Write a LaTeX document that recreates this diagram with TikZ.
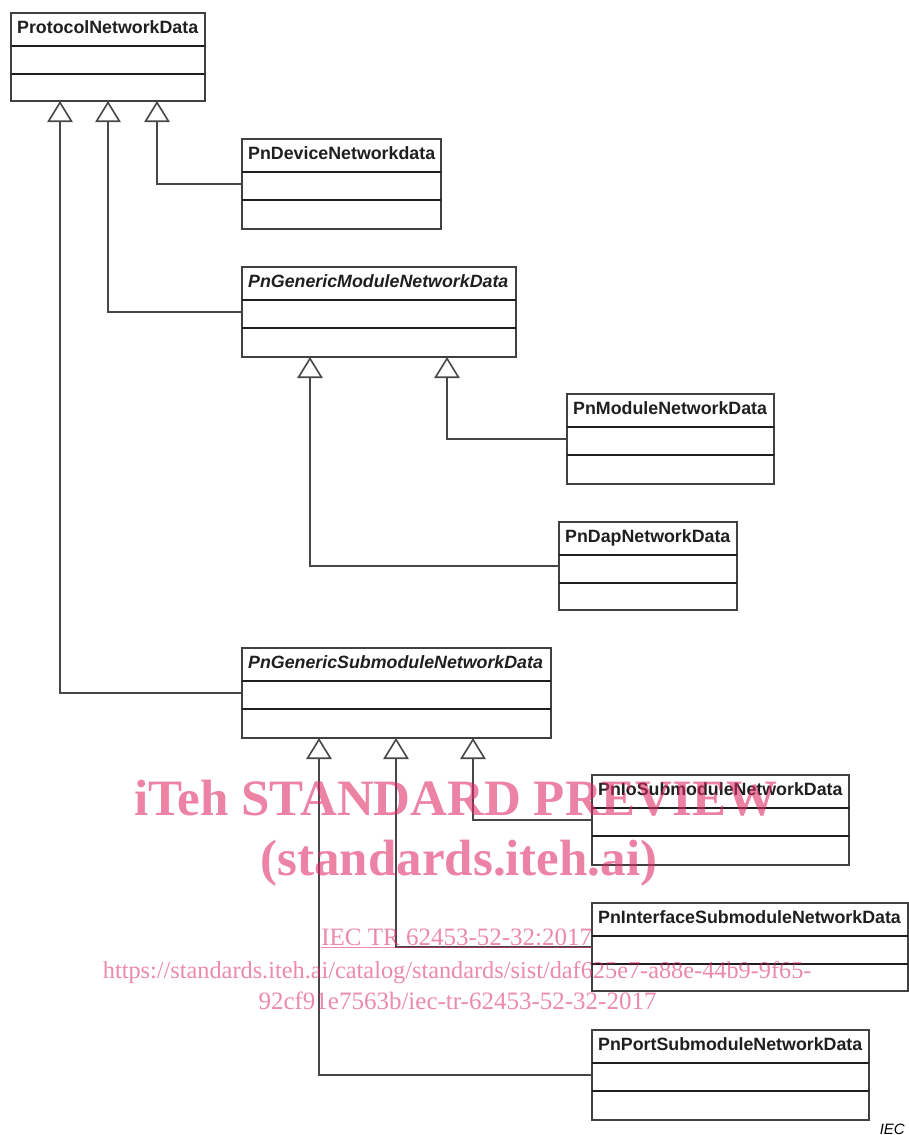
\documentclass[tikz,border=0pt]{standalone}
\usepackage{fontspec}
\usetikzlibrary{arrows.meta,calc}
\newfontfamily\arialfont{Liberation Sans}
\newfontfamily\timesfont{Liberation Serif}
\definecolor{wmpink}{RGB}{222,40,98}
\tikzset{
  clsbox/.style={draw=black!75, line width=2pt, fill=white, rectangle, inner sep=0pt, outer sep=0pt, anchor=north west},
  divline/.style={draw=black!88, line width=1.5pt},
  clstitle/.style={anchor=base west, inner sep=0pt, font=\arialfont\bfseries\fontsize{17.8}{20}\selectfont, text=black!88},
  abstitle/.style={clstitle, font=\arialfont\bfseries\itshape\fontsize{17.8}{20}\selectfont},
  inh/.style={draw=black!72, line width=2pt, line join=miter, -{Triangle[width=25.4pt, length=21pt, fill=white, line width=1.6pt]}},
  wmbig/.style={anchor=base, inner sep=0pt, text=wmpink, text opacity=0.58, font=\timesfont\bfseries\fontsize{51}{51}\selectfont},
  wmsmall/.style={anchor=base, inner sep=0pt, text=wmpink, text opacity=0.55, font=\timesfont\fontsize{25}{25}\selectfont},
}
\newcommand\umlcls[7]{%
  \node[clsbox, minimum width=#4pt, minimum height=#5pt] (#1) at (#2,#3) {};
  \draw[divline] ([yshift=-33pt]#1.north west) -- ([yshift=-33pt]#1.north east);
  \draw[divline] ([yshift=-61pt]#1.north west) -- ([yshift=-61pt]#1.north east);
  \node[#7] (#1-t) at ([xshift=6pt,yshift=-20.5pt]#1.north west) {#6};
}
\begin{document}
\begin{tikzpicture}[x=1pt,y=-1pt]
\useasboundingbox (0,0) rectangle (909,1135);
% classes
\umlcls{proto}{11}{13}{194}{88}{ProtocolNetworkData}{clstitle}
\umlcls{dev}{242}{139}{199}{90}{PnDeviceNetworkdata}{clstitle}
\umlcls{gmod}{242}{267}{274}{90}{PnGenericModuleNetworkData}{abstitle}
\umlcls{mod}{567}{394}{207}{90}{PnModuleNetworkData}{clstitle}
\umlcls{dap}{559}{522}{178}{88}{PnDapNetworkData}{clstitle}
\umlcls{gsub}{242}{648}{309}{90}{PnGenericSubmoduleNetworkData}{abstitle}
\umlcls{iosub}{592}{775}{257}{90}{PnIoSubmoduleNetworkData}{clstitle}
\umlcls{ifsub}{592}{903}{316}{88}{PnInterfaceSubmoduleNetworkData}{clstitle}
\umlcls{port}{592}{1030}{277}{90}{PnPortSubmoduleNetworkData}{clstitle}
% attachment points on parents
\coordinate (pA) at ($(proto.south west)+(49,0)$);
\coordinate (pB) at ($(proto.south west)+(97,0)$);
\coordinate (pC) at ($(proto.south west)+(146,0)$);
\coordinate (gA) at ($(gmod.south west)+(68,0)$);
\coordinate (gB) at ($(gmod.south west)+(205,0)$);
\coordinate (sA) at ($(gsub.south west)+(77,0)$);
\coordinate (sB) at ($(gsub.south west)+(154,0)$);
\coordinate (sC) at ($(gsub.south west)+(231,0)$);
% generalisations
\draw[inh] (gsub.west) -| (pA);
\draw[inh] (gmod.west) -| (pB);
\draw[inh] (dev.west) -| (pC);
\draw[inh] (dap.west) -| (gA);
\draw[inh] (mod.west) -| (gB);
\draw[inh] (port.west) -| (sA);
\draw[inh] (ifsub.west) -| (sB);
\draw[inh] (iosub.west) -| (sC);
% IEC label
\node[anchor=base east, inner sep=0pt, font=\arialfont\itshape\fontsize{15}{15}\selectfont] (iec) at (905,1134) {IEC};
% watermark
\node[wmbig] (wm1) at (456,815) {iTeh STANDARD PREVIEW};
\node[wmbig] (wm2) at (459,875) {(standards.iteh.ai)};
\node[wmsmall] (wm3) at (456.7,945.7) {\underline{IEC TR 62453-52-32:2017}};
\node[wmsmall, font=\timesfont\fontsize{24.3}{25}\selectfont] (wm4) at (457.2,978.3) {https://standards.iteh.ai/catalog/standards/sist/daf625e7-a88e-44b9-9f65-};
\node[wmsmall] (wm5) at (457.5,1009) {92cf91e7563b/iec-tr-62453-52-32-2017};
\end{tikzpicture}
\end{document}
